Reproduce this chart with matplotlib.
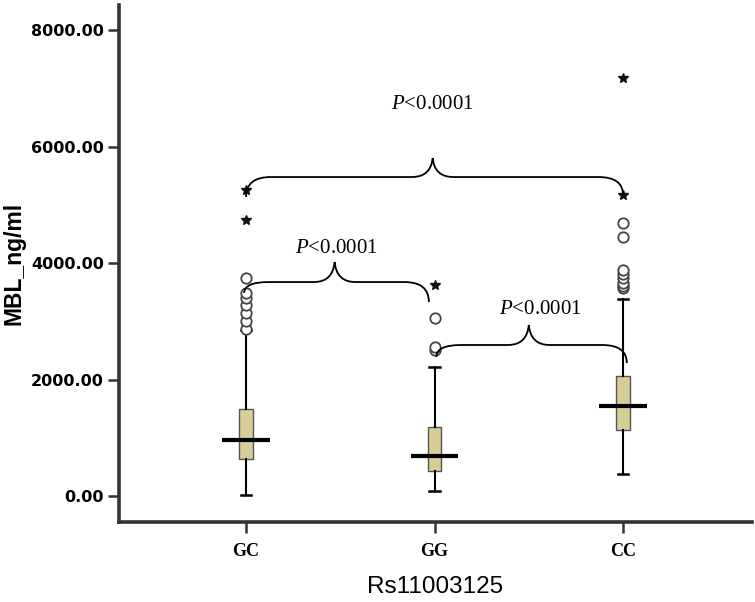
import matplotlib
matplotlib.use('Agg')
import matplotlib.pyplot as plt
from matplotlib.path import Path
from matplotlib.patches import PathPatch

plt.rcParams['mathtext.fontset'] = 'custom'
plt.rcParams['mathtext.it'] = 'Liberation Serif:italic'
plt.rcParams['mathtext.rm'] = 'Liberation Serif'

# genotype groups and box statistics
groups = ['GC', 'GG', 'CC']
q1 = [635, 429, 1133]
med = [962, 687, 1545]
q3 = [1494, 1185, 2060]
whis_lo = [17, 86, 378]
whis_hi = [2850, 2215, 3382]

# outliers (circles) and extremes (stars)
out_gc = [2870, 3000, 3150, 3280, 3400, 3480, 3743]
out_gg = [2507, 2558, 3056]
out_cc = [3580, 3610, 3660, 3740, 3820, 3880, 4447, 4687]
ext_gc = [4739, 5254]
ext_gg = [3623]
ext_cc = [5168, 7177]

outliers = [out_gc, out_gg, out_cc]
extremes = [ext_gc, ext_gg, ext_cc]

# braces: (x1, x2, left end, right end, line level, peak, x peak, text x, text y)
braces = [
    (1.0, 3.0, 5134, 5168, 5477, 5803, 1.99, 1.99, 6731),
    (0.99, 1.97, 3486, 3331, 3674, 4018, 1.47, 1.48, 4258),
    (2.01, 3.02, 2387, 2284, 2593, 2936, 2.50, 2.56, 3211),
]

pos = [1, 2, 3]

fig = plt.figure(figsize=(7.55, 6.02), dpi=100)
ax = fig.add_axes([0.1576, 0.1329, 0.996 - 0.1576, 0.9917 - 0.1329])

stats = []
for i in range(3):
    stats.append(dict(med=med[i], q1=q1[i], q3=q3[i], whislo=whis_lo[i],
                      whishi=whis_hi[i], fliers=[], label=groups[i]))

ax.bxp(stats, positions=pos, widths=0.07, capwidths=0.055, patch_artist=True,
       showfliers=False,
       boxprops=dict(facecolor='#d6cd98', edgecolor='#555555', linewidth=1.0),
       whiskerprops=dict(color='black', linewidth=1.5),
       capprops=dict(color='black', linewidth=1.8),
       medianprops=dict(linewidth=0))
ax.hlines(med, [p - 0.125 for p in pos], [p + 0.125 for p in pos],
          colors='black', linewidth=3, zorder=4)

for p, o, e in zip(pos, outliers, extremes):
    ax.plot([p] * len(o), o, linestyle='none', marker='o', markersize=7.5,
            markerfacecolor='white', markeredgecolor='#444444',
            markeredgewidth=1.3, zorder=5)
    ax.plot([p] * len(e), e, linestyle='none', marker='*', markersize=7.5,
            color='#111111', zorder=5)

# curly braces
rx = 0.13
rm = 0.11
for x1, x2, e1, e2, L, pk, xm, tx, ty in braces:
    verts = [(x1, e1), (x1, L), (x1 + rx, L),
             (xm - rm, L), (xm - 0.01, L), (xm, pk),
             (xm + 0.01, L), (xm + rm, L),
             (x2 - rx, L), (x2, L), (x2, e2)]
    codes = [Path.MOVETO, Path.CURVE3, Path.CURVE3,
             Path.LINETO, Path.CURVE3, Path.CURVE3,
             Path.CURVE3, Path.CURVE3,
             Path.LINETO, Path.CURVE3, Path.CURVE3]
    ax.add_patch(PathPatch(Path(verts, codes), facecolor='none',
                           edgecolor='black', linewidth=1.3, zorder=6))
    ax.text(tx, ty, r'$\it{P}$<0.0001', ha='center', va='center',
            fontsize=15, family='Liberation Serif')

ax.set_xlim(0.326, 3.684)
ax.set_ylim(-446, 8431)
ax.set_xticks(pos)
ax.set_xticklabels(groups, family='Liberation Serif', fontweight='bold',
                   fontsize=13)
ax.set_yticks([0, 2000, 4000, 6000, 8000])
ax.set_yticklabels(['0.00', '2000.00', '4000.00', '6000.00', '8000.00'],
                   family='DejaVu Sans', fontweight='bold', fontsize=11.5)

for s in ['top', 'right']:
    ax.spines[s].set_visible(False)
for s in ['left', 'bottom']:
    ax.spines[s].set_linewidth(2.6)
    ax.spines[s].set_color('#333333')
ax.tick_params(axis='both', length=8, width=1.8, color='#333333')
ax.tick_params(axis='x', pad=7)
ax.tick_params(axis='y', pad=3)

ax.set_xlabel('Rs11003125', fontsize=17.5, family='Liberation Sans', labelpad=12)
ax.set_ylabel('MBL_ng/ml', fontsize=16.5, family='Liberation Sans',
              fontweight='bold')
ax.yaxis.set_label_coords(-0.148, 0.5)

fig.savefig('out.png', dpi=100)
